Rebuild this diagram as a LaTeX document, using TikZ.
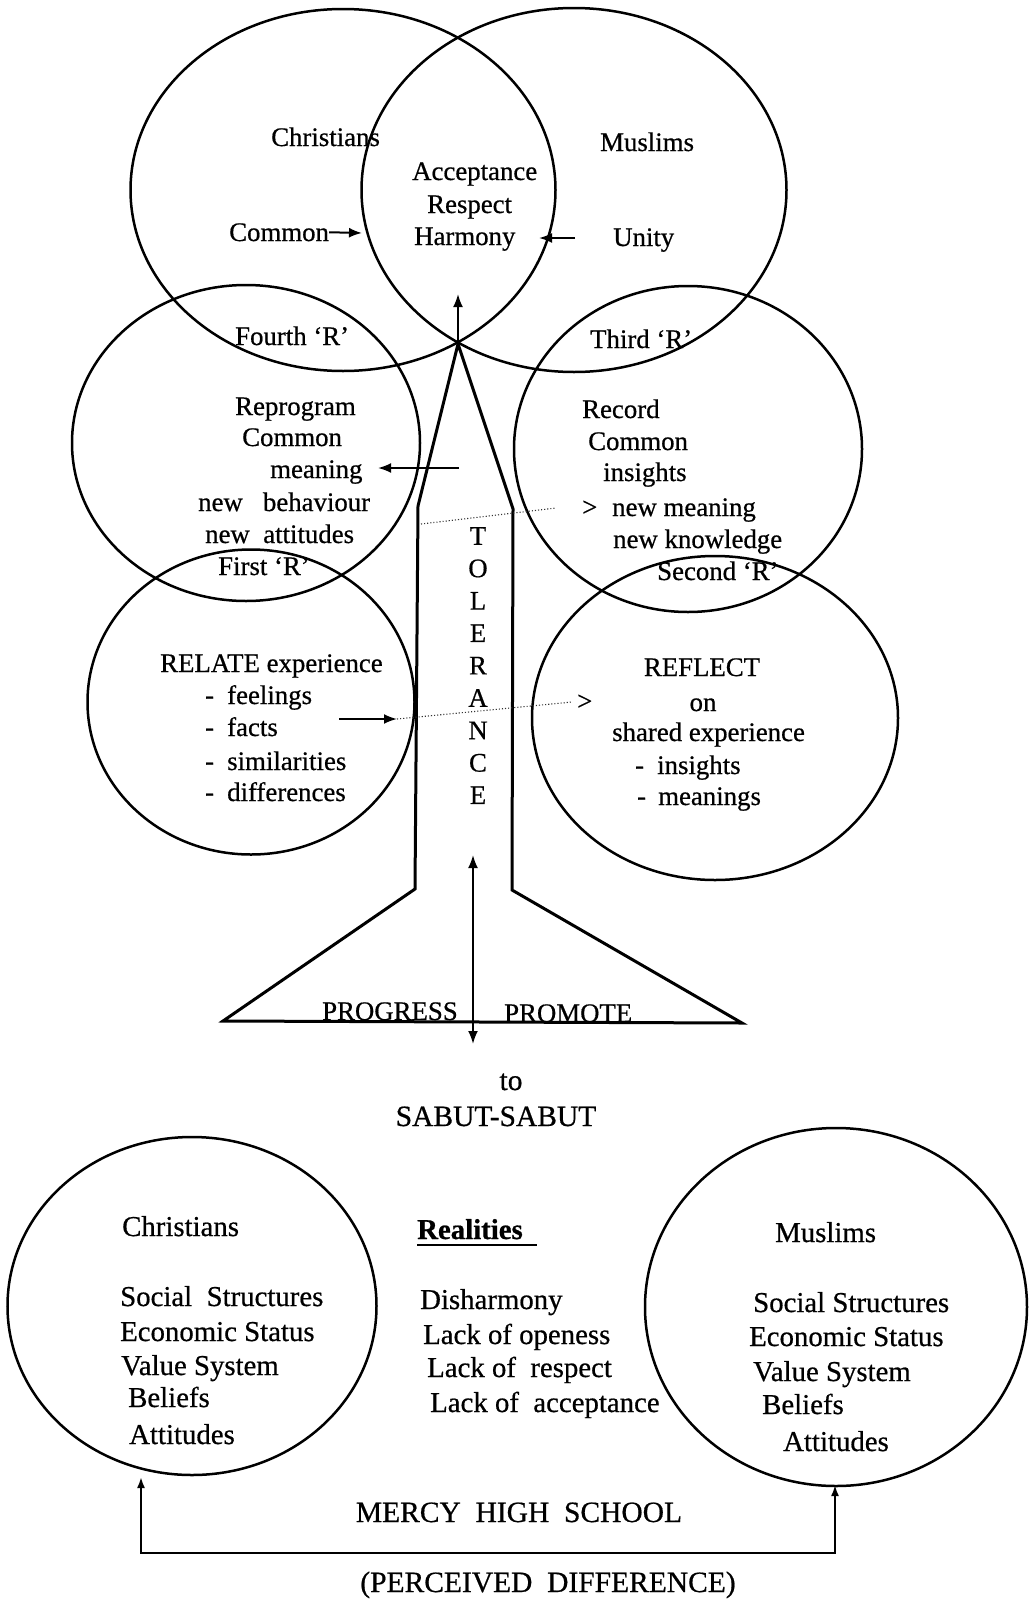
\documentclass[tikz,border=0pt]{standalone}
\usepackage{fontspec}
\setmainfont[FakeBold=0.6]{Liberation Serif}
\usetikzlibrary{shapes.geometric,arrows.meta}
\begin{document}
\begin{tikzpicture}[x=1pt,y=-1pt,
  ring/.style={draw, ellipse, line width=2.5pt, inner sep=0pt, outer sep=0pt},
  toptext/.style={inner sep=0pt, font=\fontsize{26.8}{31}\selectfont},
  lowtext/.style={inner sep=0pt, font=\fontsize{28.8}{33}\selectfont},
  bigtext/.style={inner sep=0pt, font=\fontsize{29.5}{34}\selectfont},
  arr/.style={line width=2pt, -{Latex[length=13pt,width=10pt]}},
  smallarr/.style={line width=2pt, {Latex[length=11pt,width=8pt]}-{Latex[length=11pt,width=8pt]}},
  dots/.style={line width=1.1pt, dotted, black!80},
  tree/.style={line width=3pt, line join=miter}]
\useasboundingbox (0,0) rectangle (1029,1601);

% ---------- the six overlapping circles of the tree ----------
\node[ring, minimum width=425pt, minimum height=362pt] (cTL) at (343,190) {};
\node[ring, minimum width=425pt, minimum height=364pt] (cTR) at (574,190) {};
\node[ring, minimum width=348pt, minimum height=316pt] (cML) at (246,443) {};
\node[ring, minimum width=348pt, minimum height=326pt] (cMR) at (688,449) {};
\node[ring, minimum width=327pt, minimum height=305pt] (cLL) at (251,702) {};
\node[ring, minimum width=366pt, minimum height=324pt] (cLR) at (715,718) {};

% ---------- top circles ----------
\node[toptext, anchor=base west] (chrTop) at (271,146) {Christians};
\node[toptext, anchor=base west] (musTop) at (600,151) {Muslims};
\node[toptext, anchor=base west] (accept) at (412,180) {Acceptance};
\node[toptext, anchor=base west] (respect) at (427,213) {Respect};
\node[toptext, anchor=base west] (harmony) at (414,245) {Harmony};
\node[toptext, anchor=base west] (commonTop) at (229,241) {Common};
\node[toptext, anchor=base west] (unity) at (613,246) {Unity};
\coordinate (commonTip) at (362,233);
\coordinate (unityTail) at (575,238);
\coordinate (unityTip) at (539,238);
\draw[arr] (commonTop.east) -- (commonTip);
\draw[arr] (unityTail) -- (unityTip);

% ---------- fourth and third R ----------
\node[toptext, anchor=base west] (fourthR) at (235,345) {Fourth ‘R’};
\node[toptext, anchor=base west] (thirdR) at (590,348) {Third ‘R’};

\node[toptext, anchor=base west] (reprog) at (235,415) {Reprogram};
\node[toptext, anchor=base west] (reprogB) at (242,446) {Common};
\node[toptext, anchor=base west] (reprogC) at (270,478) {meaning};
\node[toptext, anchor=base west] (reprogD) at (198,511) {new\ \ \ behaviour};
\node[toptext, anchor=base west] (reprogE) at (205,543) {new\ \ attitudes};
\node[toptext, anchor=base west] (firstR) at (218,575) {First ‘R’};

\node[toptext, anchor=base west] (record) at (582,418) {Record};
\node[toptext, anchor=base west] (recordB) at (588,450) {Common};
\node[toptext, anchor=base west] (recordC) at (603,481) {insights};
\node[toptext, anchor=base west] (gtA) at (582,516) {>};
\node[toptext, anchor=base west] (recordD) at (612,516) {new meaning};
\node[toptext, anchor=base west] (recordE) at (613,548) {new knowledge};
\node[toptext, anchor=base west] (secondR) at (657,580) {Second ‘R’};

% ---------- first and second R ----------
\node[toptext, anchor=base west] (relate) at (160,672) {RELATE experience};
\node[toptext, anchor=base west] (dashA) at (205,704) {-};
\node[toptext, anchor=base west] (feel) at (227,704) {feelings};
\node[toptext, anchor=base west] (dashB) at (205,736) {-};
\node[toptext, anchor=base west] (facts) at (227,736) {facts};
\node[toptext, anchor=base west] (dashC) at (205,770) {-};
\node[toptext, anchor=base west] (simil) at (227,770) {similarities};
\node[toptext, anchor=base west] (dashD) at (205,801) {-};
\node[toptext, anchor=base west] (diff) at (227,801) {differences};

\node[toptext, anchor=base] (reflect) at (702,676) {REFLECT};
\node[toptext, anchor=base] (on) at (703,711) {on};
\node[toptext, anchor=base west] (shared) at (612,741) {shared experience};
\node[toptext, anchor=base west] (dashE) at (635,774) {-};
\node[toptext, anchor=base west] (insig) at (657,774) {insights};
\node[toptext, anchor=base west] (dashF) at (637,805) {-};
\node[toptext, anchor=base west] (mean) at (658,805) {meanings};
\node[toptext, anchor=base west] (gtB) at (577,710) {>};

% ---------- the tolerance tree ----------
\coordinate (apex) at (458,344);
\coordinate (trunkTL) at (418,506);
\coordinate (trunkBL) at (415,889);
\coordinate (baseL) at (223,1021);
\coordinate (trunkTR) at (513,509);
\coordinate (trunkBR) at (512,890);
\coordinate (baseR) at (742,1023);
\draw[tree] (baseL) -- (trunkBL) -- (trunkTL) -- (apex) -- (trunkTR) -- (trunkBR) -- (baseR) -- cycle;

\coordinate (upTip) at (458,294);
\draw[arr] (apex) -- (upTip);

\coordinate (meanTail) at (459,468);
\coordinate (meanTip) at (378,468);
\draw[arr] (meanTail) -- (meanTip);

\coordinate (dotA1) at (421,524);
\coordinate (dotA2) at (556,508);
\draw[dots] (dotA1) -- (dotA2);

\coordinate (relTail) at (339,719);
\coordinate (relTip) at (397,719);
\coordinate (dotB2) at (572,702);
\draw[arr] (relTail) -- (relTip);
\draw[dots] (relTip) -- (dotB2);

\node[toptext, align=center, font=\fontsize{26.8}{32.4}\selectfont] (tolerance) at (478,665.6)
  {T\\O\\L\\E\\R\\A\\N\\C\\E};

\coordinate (tolUp) at (473,855);
\coordinate (tolDown) at (473,1044);
\draw[line width=2pt, {Latex[length=13pt,width=10pt]}-{Latex[length=13pt,width=10pt]}] (tolUp) -- (tolDown);

\node[toptext, anchor=base west] (progress) at (322,1020) {PROGRESS};
\node[toptext, anchor=base west] (promote) at (504,1022) {PROMOTE};

\node[bigtext, anchor=base] (to) at (511,1090) {to};
\node[bigtext, anchor=base] (sabut) at (496,1126) {SABUT-SABUT};

% ---------- the two communities ----------
\node[ring, minimum width=369pt, minimum height=338pt] (cBL) at (192,1306) {};
\node[ring, minimum width=382pt, minimum height=358pt] (cBR) at (836,1307) {};

\node[lowtext, anchor=base west] (chrLow) at (122,1236) {Christians};
\node[lowtext, anchor=base west] (chrA) at (120,1306) {Social\ \ Structures};
\node[lowtext, anchor=base west] (chrB) at (120,1341) {Economic Status};
\node[lowtext, anchor=base west] (chrC) at (121,1375) {Value System};
\node[lowtext, anchor=base west] (chrD) at (128,1407) {Beliefs};
\node[lowtext, anchor=base west] (chrE) at (129,1444) {Attitudes};

\node[lowtext, anchor=base west] (musLow) at (775,1242) {Muslims};
\node[lowtext, anchor=base west] (musA) at (753,1312) {Social Structures};
\node[lowtext, anchor=base west] (musB) at (749,1346) {Economic Status};
\node[lowtext, anchor=base west] (musC) at (753,1381) {Value System};
\node[lowtext, anchor=base west] (musD) at (762,1414) {Beliefs};
\node[lowtext, anchor=base west] (musE) at (783,1451) {Attitudes};

\node[lowtext, anchor=base west, font=\fontsize{28.8}{33}\selectfont\bfseries] (real) at (417,1239) {Realities};
\draw[line width=1.6pt] (417,1245) -- (537,1245);
\node[lowtext, anchor=base west] (realA) at (420,1309) {Disharmony};
\node[lowtext, anchor=base west] (realB) at (423,1344) {Lack of openess};
\node[lowtext, anchor=base west] (realC) at (427,1377) {Lack of\ \ respect};
\node[lowtext, anchor=base west] (realD) at (430,1412) {Lack of\ \ acceptance};

\coordinate (tipL) at (141,1477);
\coordinate (cornL) at (141,1553);
\coordinate (cornR) at (835,1553);
\coordinate (tipR) at (835,1485);
\draw[smallarr, line join=miter] (tipL) -- (cornL) -- (cornR) -- (tipR);

\node[bigtext, anchor=base] (mercy) at (519,1522) {MERCY\ \ HIGH\ \ SCHOOL};
\node[bigtext, anchor=base] (perceived) at (548,1592) {(PERCEIVED\ \ DIFFERENCE)};
\end{tikzpicture}
\end{document}
